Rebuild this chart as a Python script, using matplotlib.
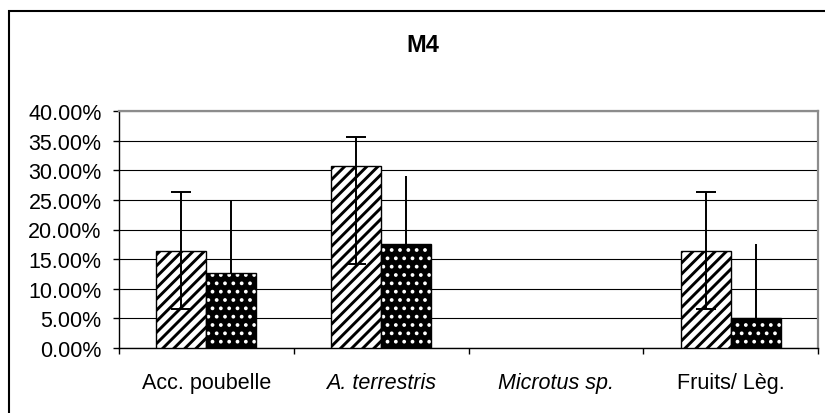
import numpy as np
import matplotlib
matplotlib.use("Agg")
import matplotlib.pyplot as plt
from matplotlib.patches import Rectangle
from matplotlib.ticker import PercentFormatter, FixedLocator

plt.rcParams['font.family'] = ['Liberation Sans', 'DejaVu Sans']

categories = ["Acc. poubelle", "A. terrestris", "Microtus sp.", "Fruits/ Lèg."]
italic_cats = ["A. terrestris", "Microtus sp."]

# mean share (%) and error bar extents for the two series
hatched_vals = [16.4, 30.7, 0.0, 16.4]
hatched_err_up = [9.9, 4.9, 0.0, 9.9]
hatched_err_down = [9.8, 16.6, 0.0, 9.8]

dotted_vals = [12.6, 17.6, 0.0, 5.0]
dotted_err_up = [12.4, 11.4, 0.0, 12.6]

title = "M4"

fig = plt.figure(figsize=(8.25, 4.14), dpi=100)
ax = fig.add_axes([119 / 825, 65 / 414, 699 / 825, 237 / 414])

x = np.arange(len(categories))
w = 0.286
hv = np.array(hatched_vals)
dv = np.array(dotted_vals)


def hatch_lw(bars, lw):
    for p in bars:
        if hasattr(p, 'set_hatch_linewidth'):
            p.set_hatch_linewidth(lw)


plt.rcParams['hatch.color'] = 'black'
mh = hv > 0
plt.rcParams['hatch.linewidth'] = 2.1
b1 = ax.bar(x[mh] - w / 2, hv[mh], w, facecolor='white', edgecolor='black',
            hatch='///', linewidth=1.0, zorder=3)
hatch_lw(b1, 2.1)

md = dv > 0
plt.rcParams['hatch.linewidth'] = 1.5
b2 = ax.bar(x[md] + w / 2, dv[md], w, facecolor='black', edgecolor='white',
            hatch='..', linewidth=0, zorder=3)
hatch_lw(b2, 1.5)
ax.bar(x[md] + w / 2, dv[md], w, facecolor='none', edgecolor='black',
       linewidth=1.0, zorder=3.1)

ax.errorbar(x[mh] - w / 2, hv[mh],
            yerr=[np.array(hatched_err_down)[mh], np.array(hatched_err_up)[mh]],
            fmt='none', ecolor='black', elinewidth=1.4, capsize=7,
            capthick=1.4, zorder=4)
ax.errorbar(x[md] + w / 2, dv[md],
            yerr=[np.zeros(md.sum()), np.array(dotted_err_up)[md]],
            fmt='none', ecolor='black', elinewidth=1.4, capsize=0, zorder=4)

ax.set_xlim(-0.5, len(categories) - 0.5)
ax.set_ylim(0, 40)
ax.yaxis.set_major_locator(FixedLocator(np.arange(0, 41, 5)))
ax.yaxis.set_major_formatter(PercentFormatter(xmax=100, decimals=2))
ax.yaxis.grid(True, color='black', linewidth=0.8, zorder=0)
ax.set_axisbelow(True)

ax.set_xticks(np.arange(-0.5, len(categories), 1.0))
ax.set_xticklabels([])
ax.set_xticks(x, minor=True)
ax.set_xticklabels(categories, minor=True)
for lab in ax.get_xticklabels(minor=True):
    if lab.get_text() in italic_cats:
        lab.set_fontstyle('italic')

ax.tick_params(axis='x', which='major', direction='out', length=4.5,
               width=1.0, color='black')
ax.tick_params(axis='x', which='minor', length=0, pad=17, labelsize=15.5)
ax.tick_params(axis='y', direction='out', length=4.5, width=1.0,
               pad=8, labelsize=15.5)

for s in ['left', 'bottom']:
    ax.spines[s].set_color('black')
    ax.spines[s].set_linewidth(1.0)
for s in ['top', 'right']:
    ax.spines[s].set_color('#8c8c8c')
    ax.spines[s].set_linewidth(1.6)

fig.text(423 / 825, 1 - 45 / 414, title, ha='center', va='center',
         fontsize=17, fontweight='bold')

fig.add_artist(Rectangle((9 / 825, -0.1), 1.2, 1 - 12 / 414 + 0.1,
                         transform=fig.transFigure, fill=False,
                         edgecolor='black', linewidth=1.5))

fig.savefig("out.png", dpi=100)
